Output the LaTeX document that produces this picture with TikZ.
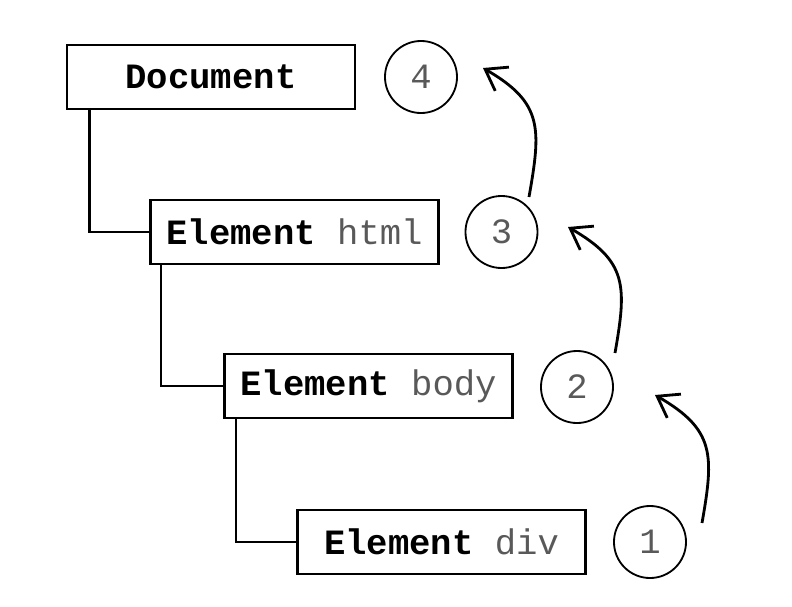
\documentclass[tikz,border=0pt]{standalone}
\usepackage{fontspec}
\setmonofont{Liberation Mono}
\usetikzlibrary{arrows.meta}

\tikzset{
  elem/.style={draw, line width=1.9pt, minimum width=7.2cm, minimum height=1.6cm,
    font=\ttfamily\fontsize{25.3}{29}\selectfont},
  num/.style={draw, circle, line width=1.3pt, minimum size=1.8cm, inner sep=0pt,
    text=black!65, font=\ttfamily\fontsize{25.3}{29}\selectfont},
  link/.style={line width=1.8pt},
  flow/.style={line width=2pt, -{Straight Barb[angle=70:17pt]},
    out=80, in=-30, looseness=1.3}
}

\begin{document}
\begin{tikzpicture}[x=0.025cm, y=0.025cm]
  \useasboundingbox (0,0) rectangle (792,-607);

  \node[elem] (doc)  at (211,-77)    {\textbf{Document}};
  \node[elem] (html) at (294.5,-232) {\textbf{Element} \textcolor{black!65}{html}};
  \node[elem] (body) at (368.5,-386) {\textbf{Element} \textcolor{black!65}{body}};
  \node[elem] (div)  at (441.5,-542) {\textbf{Element} \textcolor{black!65}{div}};

  \foreach \n/\x/\y in {1/650/-542, 2/577/-387, 3/501.5/-232, 4/421/-77} {
    \node[num] (c\n) at (\x,\y) {\n};
  }

  \draw[link] ([xshift=0.6cm]doc.south west) |- (html.west);
  \draw[link] ([xshift=0.3cm]html.south west) |- (body.west);
  \draw[link] ([xshift=0.325cm]body.south west) |- (div.west);

  \coordinate (s1) at (702,-523);
  \coordinate (t1) at (655,-395);
  \coordinate (s2) at (615,-353);
  \coordinate (t2) at (568,-227);
  \coordinate (s3) at (529,-197);
  \coordinate (t3) at (483,-68);

  \foreach \k in {1,2,3} {
    \draw[flow] (s\k) to (t\k);
  }
\end{tikzpicture}
\end{document}
